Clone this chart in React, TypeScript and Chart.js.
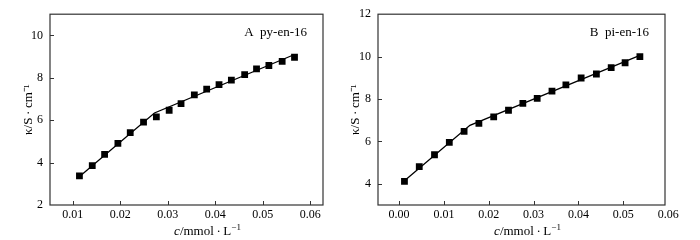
import React, { useEffect, useRef } from "react";
import { Chart, registerables } from "chart.js";

Chart.register(...registerables);

// Panel A: py-en-16
const aConc = [0.0114, 0.0141, 0.0167, 0.0195, 0.0221, 0.0249, 0.0276, 0.0303, 0.0328, 0.0356, 0.0382, 0.0408, 0.0434, 0.0462, 0.0487, 0.0513, 0.0541, 0.0567];
const aKappa = [3.37, 3.86, 4.39, 4.91, 5.41, 5.91, 6.16, 6.47, 6.78, 7.19, 7.47, 7.68, 7.89, 8.15, 8.42, 8.58, 8.77, 8.97];
const aFitConc = [0.0113, 0.0272, 0.0567];
const aFitKappa = [3.32, 6.34, 9.1];

// Panel B: pi-en-16
const bConc = [0.0012, 0.0045, 0.0079, 0.0112, 0.0145, 0.0178, 0.0211, 0.0244, 0.0276, 0.0308, 0.0341, 0.0372, 0.0406, 0.044, 0.0473, 0.0504, 0.0537];
const bKappa = [4.11, 4.81, 5.37, 5.95, 6.47, 6.85, 7.16, 7.47, 7.79, 8.03, 8.37, 8.67, 8.99, 9.18, 9.48, 9.71, 10.0];
const bFitConc = [0.0012, 0.0158, 0.0537];
const bFitKappa = [4.14, 6.76, 10.06];

const aXTicks = [0.01, 0.02, 0.03, 0.04, 0.05, 0.06];
const bXTicks = [0.0, 0.01, 0.02, 0.03, 0.04, 0.05, 0.06];

// x-axis title pieces: italic symbol, unit, superscript exponent
const xTitleSymbol = "c";
const xTitleUnit = "/mmol\u2009·\u2009L";
const xTitleExp = "−1";
const yTitle = "κ/S\u2009·\u2009cm⁻¹";

const FONT = "'Liberation Serif', 'Times New Roman', serif";

type PanelCfg = {
  label: string;
  conc: number[];
  kappa: number[];
  fitConc: number[];
  fitKappa: number[];
  xTicks: number[];
  xMin: number;
  xMax: number;
  yMin: number;
  yMax: number;
  yAxisWidth: number;
  titlePad: number;
  padRight: number;
  xTitleShift: number;
  width: number;
};

const framePlugin = (label: string, xTitleShift: number) => ({
  id: "frame",
  afterDraw(chart: any) {
    const { ctx, chartArea: a, scales } = chart;
    ctx.save();
    ctx.strokeStyle = "#333";
    ctx.lineWidth = 1.2;
    ctx.strokeRect(a.left, a.top, a.right - a.left, a.bottom - a.top);
    ctx.lineWidth = 1;
    ctx.beginPath();
    scales.x.ticks.forEach((t: any) => {
      const px = Math.round(scales.x.getPixelForValue(t.value)) + 0.5;
      if (px > a.left + 1 && px < a.right - 1) {
        ctx.moveTo(px, a.bottom);
        ctx.lineTo(px, a.bottom - 4);
      }
    });
    scales.y.ticks.forEach((t: any) => {
      const py = Math.round(scales.y.getPixelForValue(t.value)) + 0.5;
      if (py > a.top + 1 && py < a.bottom - 1) {
        ctx.moveTo(a.left, py);
        ctx.lineTo(a.left + 4, py);
      }
    });
    ctx.stroke();

    ctx.fillStyle = "#000";
    ctx.font = `13px ${FONT}`;
    ctx.textAlign = "right";
    ctx.textBaseline = "middle";
    ctx.fillText(label, a.right - 16, a.top + 18);

    // x-axis title with italic symbol and superscript
    const parts = [
      { t: xTitleSymbol, f: `italic 13px ${FONT}`, dy: 0 },
      { t: xTitleUnit, f: `13px ${FONT}`, dy: 0 },
      { t: xTitleExp, f: `9px ${FONT}`, dy: -5 },
    ];
    let total = 0;
    const widths = parts.map((p) => {
      ctx.font = p.f;
      const w = ctx.measureText(p.t).width;
      total += w;
      return w;
    });
    let x = (a.left + a.right) / 2 + xTitleShift - total / 2;
    const base = chart.height - 5;
    ctx.textAlign = "left";
    ctx.textBaseline = "alphabetic";
    parts.forEach((p, i) => {
      ctx.font = p.f;
      ctx.fillText(p.t, x, base + p.dy);
      x += widths[i];
    });
    ctx.restore();
  },
});

function Panel({ cfg }: { cfg: PanelCfg }) {
  const ref = useRef<HTMLCanvasElement>(null);
  useEffect(() => {
    if (!ref.current) return;
    const chart = new Chart(ref.current, {
      type: "scatter",
      data: {
        datasets: [
          {
            data: cfg.conc.map((x, i) => ({ x, y: cfg.kappa[i] })),
            pointStyle: "rect",
            pointRadius: 4.8,
            pointBackgroundColor: "#000",
            pointBorderWidth: 0,
            showLine: false,
          },
          {
            data: cfg.fitConc.map((x, i) => ({ x, y: cfg.fitKappa[i] })),
            showLine: true,
            borderColor: "#000",
            borderWidth: 1.3,
            pointRadius: 0,
            tension: 0,
          },
        ],
      },
      options: {
        responsive: false,
        animation: false,
        layout: { padding: { left: 0, top: 8, right: cfg.padRight, bottom: 0 } },
        plugins: { legend: { display: false }, tooltip: { enabled: false } },
        scales: {
          x: {
            type: "linear",
            min: cfg.xMin,
            max: cfg.xMax,
            afterBuildTicks: (s: any) => {
              s.ticks = cfg.xTicks.map((v) => ({ value: v }));
            },
            afterFit: (s: any) => {
              s.height = 35;
            },
            grid: { display: false, drawTicks: false },
            border: { display: false },
            ticks: {
              autoSkip: false,
              maxRotation: 0,
              padding: 3,
              color: "#000",
              font: { family: FONT, size: 12 },
              callback: (v: any) => (Math.abs(v) < 1e-9 ? 0 : Number(v)).toFixed(2),
            },
            title: { display: false },
          },
          y: {
            type: "linear",
            min: cfg.yMin,
            max: cfg.yMax,
            afterFit: (s: any) => {
              s.width = cfg.yAxisWidth;
            },
            grid: { display: false, drawTicks: false },
            border: { display: false },
            ticks: {
              stepSize: 2,
              includeBounds: false,
              padding: 7,
              color: "#000",
              font: { family: FONT, size: 12 },
            },
            title: {
              display: true,
              text: yTitle,
              color: "#000",
              font: { family: FONT, size: 13 },
              padding: { top: cfg.titlePad, bottom: 0 },
            },
          },
        },
      },
      plugins: [framePlugin(cfg.label, cfg.xTitleShift)],
    } as any);
    return () => chart.destroy();
  }, [cfg]);
  return <canvas ref={ref} width={cfg.width} height={240} style={{ display: "block", width: cfg.width, height: 240 }} />;
}

const panelA: PanelCfg = {
  label: "A  py-en-16",
  conc: aConc,
  kappa: aKappa,
  fitConc: aFitConc,
  fitKappa: aFitKappa,
  xTicks: aXTicks,
  xMin: 0.0052,
  xMax: 0.0627,
  yMin: 2,
  yMax: 11,
  yAxisWidth: 50,
  titlePad: 21,
  padRight: 22,
  xTitleShift: 21,
  width: 345,
};

const panelB: PanelCfg = {
  label: "B  pi-en-16",
  conc: bConc,
  kappa: bKappa,
  fitConc: bFitConc,
  fitKappa: bFitKappa,
  xTicks: bXTicks,
  xMin: -0.0047,
  xMax: 0.0593,
  yMin: 3,
  yMax: 12,
  yAxisWidth: 33,
  titlePad: 3,
  padRight: 35,
  xTitleShift: 6,
  width: 355,
};

export default function App() {
  return (
    <div style={{ position: "fixed", left: 0, top: 0, width: 700, height: 240, background: "#fff", display: "flex" }}>
      <Panel cfg={panelA} />
      <Panel cfg={panelB} />
    </div>
  );
}
